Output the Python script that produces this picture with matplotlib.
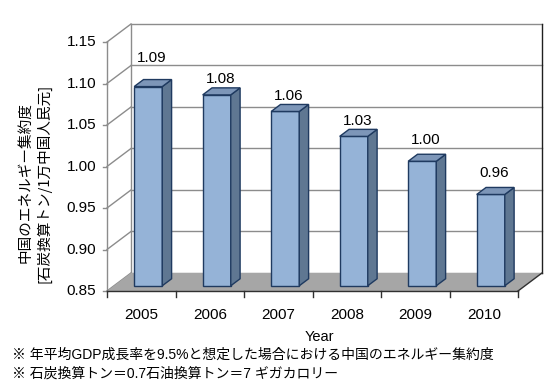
import matplotlib
matplotlib.use("Agg")
import matplotlib.pyplot as plt
from matplotlib.patches import Polygon

# ---- data ----
years = ["2005", "2006", "2007", "2008", "2009", "2010"]
values = [1.09, 1.08, 1.06, 1.03, 1.00, 0.96]
value_labels = ["1.09", "1.08", "1.06", "1.03", "1.00", "0.96"]
y_ticks = [0.85, 0.90, 0.95, 1.00, 1.05, 1.10, 1.15]
y_tick_labels = ["0.85", "0.90", "0.95", "1.00", "1.05", "1.10", "1.15"]
ylabel_lines = ["中国のエネルギー集約度", "[石炭換算トン/1万中国人民元]"]
xlabel = "Year"
notes = ["※ 年平均GDP成長率を9.5%と想定した場合における中国のエネルギー集約度",
         "※ 石炭換算トン＝0.7石油換算トン＝7 ギガカロリー"]

# ---- style / layout ----
label_offset_px = [22, 9, 8, 8, 14, 14]
W, H = 559, 390
DX = 0.35      # depth offset in category units
DY = 0.0217    # depth offset in value units
D0, D1 = 0.29, 0.68   # bar front/back depth fractions
BW = 0.41
YMIN, YMAX = 0.85, 1.15
front_c = "#95B3D7"
side_c = "#5F7792"
top_c = "#7D96B8"
edge_c = "#1F3A60"
grid_c = "#8C8C8C"
floor_c = "#A6A6A6"

latin = ["Liberation Sans", "Noto Sans CJK JP"]
cjk = ["Noto Sans CJK JP", "Liberation Sans"]

fig = plt.figure(figsize=(W / 100, H / 100), dpi=100)
ax = fig.add_axes([107 / W, (H - 291) / H, (542 - 107) / W, (291 - 24) / H])
n = len(years)
x0, x1 = -0.5, n - 0.5
ax.set_xlim(x0, x1 + DX)
ax.set_ylim(YMIN, YMAX + DY)
for s in ["top", "right", "left", "bottom"]:
    ax.spines[s].set_visible(False)
ax.set_xticks([])
ax.set_yticks([])

# floor
floor = Polygon([(x0, YMIN), (x1, YMIN), (x1 + DX, YMIN + DY), (x0 + DX, YMIN + DY)],
                closed=True, facecolor=floor_c, edgecolor="none", zorder=1)
ax.add_patch(floor)

# back wall gridlines and side wall diagonals
for v in y_ticks:
    ax.plot([x0 + DX, x1 + DX], [v + DY, v + DY], color=grid_c, lw=1.0, zorder=0.5,
            clip_on=False)
    ax.plot([x0, x0 + DX], [v, v + DY], color=grid_c, lw=1.0, zorder=0.5, clip_on=False)
    ax.plot([x0 - 0.06, x0], [v, v], color=grid_c, lw=1.0, clip_on=False)
ax.plot([x0 + DX, x0 + DX], [YMIN + DY, YMAX + DY], color=grid_c, lw=1.0, zorder=0.5,
        clip_on=False)
ax.plot([x1 + DX, x1 + DX], [YMIN + DY, YMAX + DY], color="#202020", lw=1.0, zorder=2,
        clip_on=False)
# front left axis
ax.plot([x0, x0], [YMIN, YMAX], color=grid_c, lw=1.0, zorder=2, clip_on=False)
# floor front and right edges
ax.plot([x0, x1], [YMIN, YMIN], color="#303030", lw=1.0, zorder=3, clip_on=False)
ax.plot([x1, x1 + DX], [YMIN, YMIN + DY], color="#303030", lw=1.0, zorder=3, clip_on=False)
# x tick marks
for k in range(n + 1):
    xt = x0 + k
    ax.plot([xt, xt], [YMIN, YMIN - 0.007], color="#303030", lw=1.0, clip_on=False)

# y tick labels
for v, lab in zip(y_ticks, y_tick_labels):
    ax.annotate(lab, xy=(x0, v), xytext=(-11, 0), textcoords="offset pixels",
                ha="right", va="center", fontsize=11, family=latin, annotation_clip=False)
# x tick labels
for i, lab in enumerate(years):
    ax.annotate(lab, xy=(i, YMIN), xytext=(0, -24), textcoords="offset pixels",
                ha="center", va="center", fontsize=11, family=latin, annotation_clip=False)

# bars
for i, v in enumerate(values):
    xl = i - BW / 2 + D0 * DX
    xr = i + BW / 2 + D0 * DX
    yb = YMIN + D0 * DY
    yt = v + D0 * DY
    ddx = (D1 - D0) * DX
    ddy = (D1 - D0) * DY
    front = Polygon([(xl, yb), (xr, yb), (xr, yt), (xl, yt)], closed=True,
                    facecolor=front_c, edgecolor=edge_c, lw=1.0, zorder=5)
    side = Polygon([(xr, yb), (xr + ddx, yb + ddy), (xr + ddx, yt + ddy), (xr, yt)],
                   closed=True, facecolor=side_c, edgecolor=edge_c, lw=1.0, zorder=5)
    top = Polygon([(xl, yt), (xr, yt), (xr + ddx, yt + ddy), (xl + ddx, yt + ddy)],
                  closed=True, facecolor=top_c, edgecolor=edge_c, lw=1.0, zorder=5)
    for p in (front, side, top):
        ax.add_patch(p)
    ax.annotate(value_labels[i], xy=(i + 0.44 * DX, v + D1 * DY),
                xytext=(0, label_offset_px[i]), textcoords="offset pixels",
                ha="center", va="center", fontsize=11, family=latin, zorder=6,
                annotation_clip=False)

fig.text(35 / W, 1 - 183 / H, "\n".join(ylabel_lines), rotation=90, ha="center",
         va="center", multialignment="center", fontsize=10.5, family=cjk, linespacing=1.35)
fig.text(319 / W, 1 - 337 / H, xlabel, ha="center", va="center", fontsize=10.5, family=latin)
fig.text(12 / W, 1 - 355 / H, notes[0], ha="left", va="center", fontsize=10, family=latin)
fig.text(12 / W, 1 - 374 / H, notes[1], ha="left", va="center", fontsize=10, family=latin)

fig.savefig("out.png", dpi=100, facecolor="white")
